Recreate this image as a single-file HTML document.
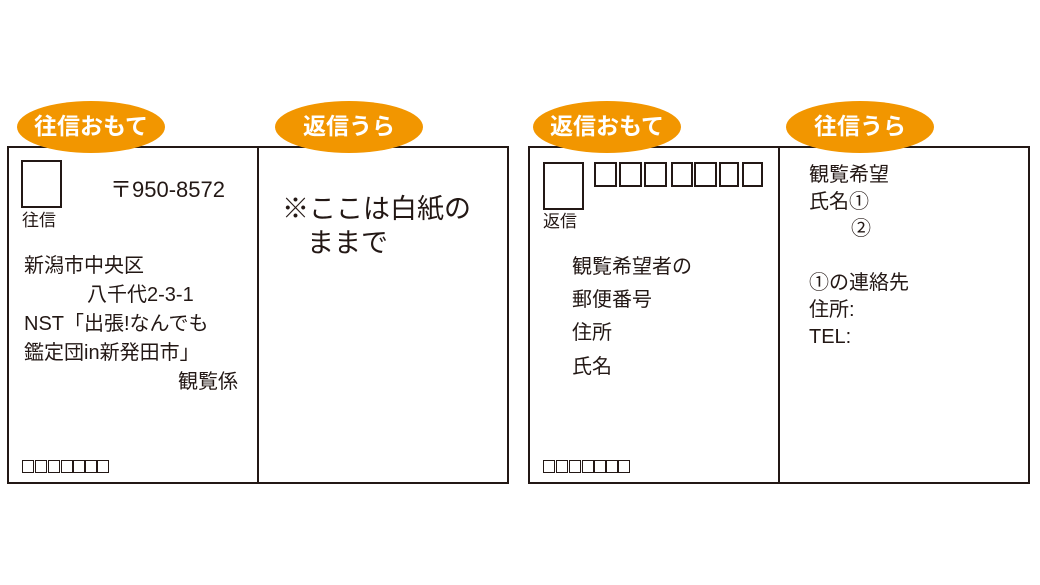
<!DOCTYPE html>
<html><head><meta charset="utf-8"><style>
body{margin:0;width:1040px;height:585px;background:#fff;position:relative;overflow:hidden;font-family:"Liberation Sans","Noto Sans CJK JP",sans-serif;color:#231815}
div{position:absolute}
.card{border:2px solid #231815;box-sizing:border-box}
.ell{background:#f29600;border-radius:50%;color:#fff;font-weight:bold;font-size:23px;text-align:center;line-height:50px;width:148px;height:52px}
.t{font-size:20px;white-space:nowrap;line-height:1}
.sq{border:2px solid #231815;box-sizing:border-box}
.b{border:1.5px solid #231815;box-sizing:border-box;width:12px;height:13px;top:460px}
</style></head><body>
<div class="card" style="left:7px;top:146px;width:502px;height:338px"></div>
<div style="left:257px;top:146px;width:2px;height:338px;background:#231815"></div>
<div class="card" style="left:528px;top:146px;width:502px;height:338px"></div>
<div style="left:778px;top:146px;width:2px;height:338px;background:#231815"></div>

<div class="ell" style="left:17px;top:101px">往信おもて</div>
<div class="ell" style="left:275px;top:101px">返信うら</div>
<div class="ell" style="left:533px;top:101px">返信おもて</div>
<div class="ell" style="left:786px;top:101px">往信うら</div>

<div class="sq" style="left:21px;top:160px;width:41px;height:48px"></div>
<div class="t" style="left:22px;top:212px;font-size:17px">往信</div>
<div class="t" style="left:110px;top:179px;font-size:22px">〒950-8572</div>
<div class="t" style="left:24px;top:256px">新潟市中央区</div>
<div class="t" style="left:87px;top:285px">八千代2-3-1</div>
<div class="t" style="left:24px;top:314px">NST「出張!なんでも</div>
<div class="t" style="left:24px;top:343px">鑑定団in新発田市」</div>
<div class="t" style="left:178px;top:372px">観覧係</div>
<div class="b" style="left:22px"></div><div class="b" style="left:35px"></div><div class="b" style="left:48px"></div><div class="b" style="left:61px"></div><div class="b" style="left:73px"></div><div class="b" style="left:85px"></div><div class="b" style="left:97px"></div>

<div class="t" style="left:282px;top:196px;font-size:27px">※ここは白紙の</div>
<div class="t" style="left:307px;top:230px;font-size:27px">ままで</div>

<div class="sq" style="left:543px;top:162px;width:41px;height:48px"></div>
<div class="t" style="left:543px;top:213px;font-size:17px">返信</div>
<div class="sq" style="left:594px;top:162px;width:23px;height:25px"></div>
<div class="sq" style="left:619px;top:162px;width:23px;height:25px"></div>
<div class="sq" style="left:644px;top:162px;width:23px;height:25px"></div>
<div class="sq" style="left:671px;top:162px;width:22px;height:25px"></div>
<div class="sq" style="left:694px;top:162px;width:23px;height:25px"></div>
<div class="sq" style="left:719px;top:162px;width:20px;height:25px"></div>
<div class="sq" style="left:742px;top:162px;width:21px;height:25px"></div>
<div class="t" style="left:572px;top:257px">観覧希望者の</div>
<div class="t" style="left:572px;top:290px">郵便番号</div>
<div class="t" style="left:572px;top:323px">住所</div>
<div class="t" style="left:572px;top:357px">氏名</div>
<div class="b" style="left:543px"></div><div class="b" style="left:556px"></div><div class="b" style="left:569px"></div><div class="b" style="left:582px"></div><div class="b" style="left:594px"></div><div class="b" style="left:606px"></div><div class="b" style="left:618px"></div>

<div class="t" style="left:809px;top:165px">観覧希望</div>
<div class="t" style="left:809px;top:192px">氏名①</div>
<div class="t" style="left:851px;top:219px">②</div>
<div class="t" style="left:809px;top:273px">①の連絡先</div>
<div class="t" style="left:809px;top:300px">住所:</div>
<div class="t" style="left:809px;top:327px">TEL:</div>
</body></html>
